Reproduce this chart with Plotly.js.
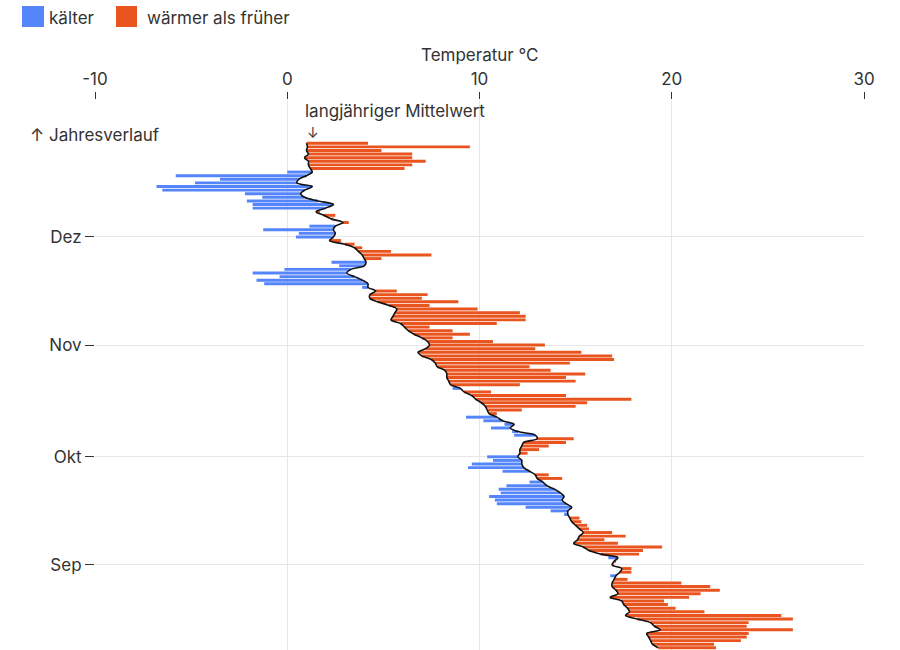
<!DOCTYPE html>
<html>
<head>
<meta charset="utf-8">
<script src="https://cdn.plot.ly/plotly-3.0.1.min.js"></script>
<style>
  html, body { margin: 0; padding: 0; background: #fff; }
  #chart { width: 900px; height: 650px; }
</style>
</head>
<body>
<div id="chart"></div>
<script>
// Tageswerte, vom 27. Dezember 2023 rueckwaerts gelesen (ein Wert pro Tag)
var startDatum = '2023-12-27';

// langjaehriger Mittelwert (schwarze Linie), Grad Celsius
var mittelwert = [
  1.0, 1.05, 1.0, 1.1, 0.9, 1.1, 1.1, 1.2, 1.3, 1.0,
  0.6, 0.5, 1.3, 0.9, 0.7, 0.9, 1.6, 2.4, 2.0, 1.5,
  1.9, 2.3, 2.9, 2.5, 2.4, 2.5, 2.4, 2.2, 3.0, 3.5,
  3.7, 3.9, 4.0, 4.1, 4.0, 3.3, 3.1, 3.5, 3.9, 4.2,
  4.2, 4.6, 4.3, 4.3, 4.7, 5.3, 5.7, 5.6, 5.5, 5.4,
  5.9, 6.1, 6.3, 6.6, 7.0, 7.3, 7.4, 7.2, 6.8, 7.0,
  7.5, 7.7, 7.8, 8.2, 8.3, 8.3, 8.4, 8.5, 9.0, 9.2,
  9.6, 9.8, 10.1, 10.3, 10.4, 10.5, 10.9, 11.2, 11.8, 11.6,
  12.0, 12.9, 13.0, 12.3, 12.2, 12.1, 12.1, 12.0, 12.2, 12.2,
  12.3, 12.6, 12.9, 13.0, 13.3, 13.5, 13.9, 14.2, 14.4, 14.3,
  14.5, 14.8, 14.6, 14.6, 14.7, 14.8, 15.0, 15.2, 15.4, 15.2,
  15.1, 14.9, 15.4, 15.7, 16.3, 17.2, 17.0, 16.9, 17.4, 17.3,
  17.1, 17.0, 16.9, 16.9, 17.1, 17.2, 16.8, 17.4, 17.5, 17.7,
  17.8, 17.6, 18.2, 18.9, 19.1, 19.4, 18.7, 18.8, 18.9, 19.0,
  19.3
];

// gemessene Tagesmitteltemperatur 2023, Grad Celsius
var temperatur = [
  4.2, 9.5, 4.9, 6.5, 6.5, 7.2, 6.5, 6.1, 0.0, -5.8,
  -3.5, -4.8, -6.8, -6.5, -2.2, -1.3, -2.1, -1.8, -1.8, 1.7,
  2.5, 2.4, 3.2, 1.15, -1.25, 0.6, 0.45, 2.8, 3.5, 3.9,
  5.4, 7.5, 4.9, 2.3, 2.7, -0.15, -1.8, -0.4, -1.6, -1.2,
  3.9, 5.7, 7.3, 7.0, 8.9, 7.4, 9.9, 12.1, 12.4, 12.4,
  10.9, 7.4, 8.6, 9.5, 8.6, 10.7, 13.4, 12.9, 15.3, 16.9,
  17.0, 14.7, 12.6, 13.7, 15.5, 14.5, 15.0, 12.1, 8.6, 10.6,
  14.5, 17.9, 15.6, 15.0, 12.2, 10.9, 9.3, 10.2, 11.3, 10.6,
  11.7, 11.8, 14.9, 14.5, 13.6, 13.1, 12.5, 10.4, 10.7, 9.6,
  9.4, 11.2, 13.6, 14.3, 12.6, 11.4, 11.0, 11.1, 10.5, 10.8,
  10.9, 12.4, 13.7, 14.4, 15.2, 15.3, 15.6, 15.7, 16.9, 17.6,
  16.5, 17.2, 19.5, 18.5, 18.3, 16.7, 17.1, 17.0, 17.9, 17.9,
  16.8, 17.7, 20.5, 22.0, 22.5, 21.5, 20.9, 19.6, 19.8, 20.2,
  21.7, 25.7, 26.3, 24.0, 23.9, 26.3, 24.0, 23.9, 23.6, 22.2,
  22.3
];

var monatTicks = ['2023-09-01', '2023-10-01', '2023-11-01', '2023-12-01'];
var monatNamen = ['Sep', 'Okt', 'Nov', 'Dez'];
var tempTicks = [-10, 0, 10, 20, 30];
var tempNamen = ['-10', '0', '10', '20', '30'];

var blau = '#5585fa';
var rot = '#e9541f';
var grau = '#333333';

// Datumsliste bauen
var tage = [];
var s = startDatum.split('-');
for (var i = 0; i < mittelwert.length; i++) {
  var d = new Date(Date.UTC(+s[0], +s[1] - 1, +s[2] - i));
  tage.push(d.toISOString().slice(0, 10));
}

var kaltX = [], warmX = [];
for (var j = 0; j < mittelwert.length; j++) {
  var diff = temperatur[j] - mittelwert[j];
  kaltX.push(diff < 0 ? diff : null);
  warmX.push(diff >= 0 ? diff : null);
}

var data = [{
    type: 'bar',
    orientation: 'h',
    name: 'kälter',
    y: tage,
    x: kaltX,
    base: mittelwert,
    marker: {color: blau},
    showlegend: false,
    hoverinfo: 'skip'
  }, {
    type: 'bar',
    orientation: 'h',
    name: 'wärmer als früher',
    y: tage,
    x: warmX,
    base: mittelwert,
    marker: {color: rot},
    showlegend: false,
    hoverinfo: 'skip'
  }, {
    type: 'scatter',
    mode: 'lines',
    y: tage,
    x: mittelwert,
    line: {color: '#111', width: 1.6, shape: 'spline', smoothing: 1},
    showlegend: false,
    hoverinfo: 'skip'
  }];

var txt = {family: 'Inter, "Noto Sans", sans-serif', size: 17, color: grau};

var layout = {
  width: 900,
  height: 650,
  margin: {l: 95, r: 36, t: 100, b: 0},
  paper_bgcolor: '#fff',
  plot_bgcolor: '#fff',
  font: txt,
  barmode: 'overlay',
  bargap: 0.18,
  showlegend: false,
  xaxis: {
    side: 'top',
    range: [-10, 30],
    tickvals: tempTicks,
    ticktext: tempNamen,
    ticks: 'outside',
    ticklen: 7,
    tickcolor: grau,
    tickfont: {family: txt.family, size: 17, color: grau},
    showgrid: true,
    gridcolor: '#e6e6e6',
    zeroline: false,
    showline: false,
    fixedrange: true
  },
  yaxis: {
    type: 'date',
    range: ['2023-08-08 09:36', '2024-01-08'],
    tickvals: monatTicks,
    ticktext: monatNamen,
    ticks: 'outside',
    ticklen: 9,
    tickcolor: grau,
    tickfont: {family: txt.family, size: 17, color: grau},
    showgrid: true,
    gridcolor: '#e6e6e6',
    zeroline: false,
    showline: false,
    fixedrange: true
  },
  shapes: [
    {type: 'rect', xref: 'paper', yref: 'paper', x0: -0.0949, x1: -0.0663, y0: 1.1327, y1: 1.1709,
     fillcolor: blau, line: {width: 0}},
    {type: 'rect', xref: 'paper', yref: 'paper', x0: 0.0273, x1: 0.0546, y0: 1.1327, y1: 1.1709,
     fillcolor: rot, line: {width: 0}}
  ],
  annotations: [
    {text: 'kälter', xref: 'paper', yref: 'paper', x: -0.0625, y: 1.1490,
     xanchor: 'left', yanchor: 'middle', showarrow: false, font: txt},
    {text: 'wärmer als früher', xref: 'paper', yref: 'paper', x: 0.0650, y: 1.1490,
     xanchor: 'left', yanchor: 'middle', showarrow: false, font: txt},
    {text: 'Temperatur °C', xref: 'paper', yref: 'paper', x: 0.5, y: 1.0820,
     xanchor: 'center', yanchor: 'middle', showarrow: false, font: txt},
    {text: 'langjähriger Mittelwert', xref: 'x', yref: 'paper', x: 0.85, y: 0.980,
     xanchor: 'left', yanchor: 'middle', showarrow: false, borderpad: 0, font: txt},
    {text: '↓', xref: 'x', yref: 'paper', x: 1.35, y: 0.941,
     xanchor: 'center', yanchor: 'middle', showarrow: false, borderpad: 0,
     font: {family: txt.family, size: 14, color: grau}},
    {text: '↑ Jahresverlauf', xref: 'paper', yref: 'paper', x: -0.0870, y: 0.936,
     xanchor: 'left', yanchor: 'middle', showarrow: false, font: txt}
  ]
};

Plotly.newPlot('chart', data, layout, {displayModeBar: false, staticPlot: true});
</script>
</body>
</html>
